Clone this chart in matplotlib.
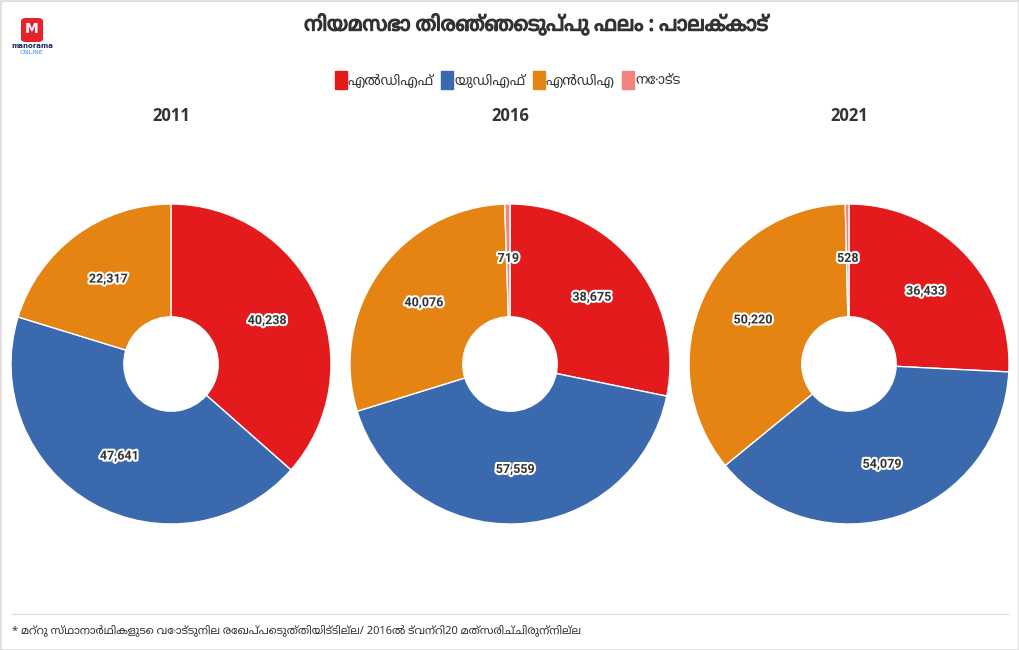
import matplotlib
matplotlib.use("Agg")
import matplotlib.pyplot as plt
import matplotlib.patheffects as pe
from matplotlib.patches import FancyBboxPatch, Rectangle
from matplotlib.lines import Line2D
from matplotlib import font_manager
from matplotlib.ft2font import FT2Font

# data
years = ["2011", "2016", "2021"]
parties = ["എൽഡിഎഫ്", "യുഡിഎഫ്", "എൻഡിഎ", "നോട്ട"]
votes_2011 = [40238, 47641, 22317, 0]
votes_2016 = [38675, 57559, 40076, 719]
votes_2021 = [36433, 54079, 50220, 528]
colors = ["#e31b1d", "#3a69ad", "#e58313", "#f2837e"]

title = "നിയമസഭാ തിരഞ്ഞെടുപ്പു ഫലം : പാലക്കാട്"
footnote = "* മറ്റു സ്ഥാനാർഥികളുടെ വോട്ടുനില രേഖപ്പെടുത്തിയിട്ടില്ല/ 2016ൽ ട്വന്റി20 മത്സരിച്ചിരുന്നില്ല"


# look for installed fonts that have malayalam glyphs, prefer proportional ones
def find_mal_font():
    found = []
    seen = set()
    for f in font_manager.fontManager.ttflist:
        if f.fname in seen:
            continue
        seen.add(f.fname)
        try:
            cm = FT2Font(f.fname).get_charmap()
        except Exception:
            continue
        if 0x0D28 in cm:
            found.append(f.name)
    if not found:
        return None

    def rank(n):
        s = 0
        if "Malayalam" in n:
            s -= 10
        if "Mono" in n or "Code" in n:
            s += 5
        if "Sans" in n:
            s -= 2
        return s
    found.sort(key=rank)
    return found[0]


mal = find_mal_font()
fams = ["Noto Sans", "DejaVu Sans"]
if mal:
    fams = ["Noto Sans", mal, "DejaVu Sans"]
plt.rcParams["font.family"] = fams

W, H = 1020, 650
fig = plt.figure(figsize=(10.2, 6.5), dpi=100)
fig.patch.set_facecolor("white")

# outer border and footer rule
fig.add_artist(Rectangle((0.5 / W, 0.5 / H), 1 - 1 / W, 1 - 1 / H, transform=fig.transFigure,
                         fill=False, edgecolor="#d9d9d9", linewidth=1.2))
fig.add_artist(Line2D([12 / W, 1008 / W], [1 - 614 / H] * 2, transform=fig.transFigure,
                      color="#dddddd", linewidth=0.8))

# title (stroke to fake a heavier weight)
fig.text(536 / W, 1 - 25 / H, title, ha="center", va="center", fontsize=14.5,
         fontweight="bold", color="#333333",
         path_effects=[pe.withStroke(linewidth=0.9, foreground="#333333")])

# logo
fig.add_artist(FancyBboxPatch((21 / W, 1 - 42 / H), 22 / W, 24 / H, transform=fig.transFigure,
                              boxstyle="round,pad=0,rounding_size=0.005", facecolor="#e8222b",
                              edgecolor="none"))
fig.text(32 / W, 1 - 29 / H, "M", ha="center", va="center", fontsize=10, fontweight="bold",
         color="white", family="DejaVu Sans")
fig.text(32 / W, 1 - 46 / H, "manorama", ha="center", va="center", fontsize=5,
         fontweight="bold", color="#1d2a5c", family="DejaVu Sans")
fig.text(32 / W, 1 - 52 / H, "ONLINE", ha="center", va="center", fontsize=4.5,
         color="#2a8be0", family="DejaVu Sans")

# legend, with tall rectangle markers
tall = [(-0.33, -0.5), (0.33, -0.5), (0.33, 0.5), (-0.33, 0.5), (-0.33, -0.5)]
handles = [Line2D([], [], marker=tall, linestyle="none", markersize=13, markerfacecolor=c,
                  markeredgecolor=c) for c in colors]
fig.legend(handles, parties, loc="center", bbox_to_anchor=(508 / W, 1 - 81 / H), ncol=4,
           frameon=False, fontsize=9.8, handletextpad=0.1, columnspacing=0.6,
           labelcolor="#333333", handlelength=0.8)

centers = [171, 510, 849]
R = 160
all_votes = [votes_2011, votes_2016, votes_2021]

for cx, yr, v in zip(centers, years, all_votes):
    ax = fig.add_axes([(cx - R) / W, (H - 364 - R) / H, 2 * R / W, 2 * R / H])
    vals = [x for x in v if x > 0]
    cols = [c for x, c in zip(v, colors) if x > 0]
    wedges, texts = ax.pie(vals, colors=cols, startangle=90, counterclock=False,
                           labels=[f"{x:,}" for x in vals], labeldistance=0.66,
                           wedgeprops=dict(width=1 - 0.295, edgecolor="white", linewidth=1),
                           textprops=dict(fontsize=9, fontweight="bold", color="#333333",
                                          ha="center", va="center", family="Roboto"))
    for t in texts:
        t.set_path_effects([pe.withStroke(linewidth=3, foreground="white")])
    ax.set_xlim(-1, 1)
    ax.set_ylim(-1, 1)
    ax.set_aspect("equal")
    ax.axis("off")
    fig.text(cx / W, 1 - 116 / H, yr, ha="center", va="center", fontsize=12,
             fontweight="bold", color="#333333", family="Open Sans")

fig.text(12 / W, 1 - 630 / H, footnote, ha="left", va="center", fontsize=8, color="#333333")

fig.savefig("out.png", dpi=100, facecolor="white")
